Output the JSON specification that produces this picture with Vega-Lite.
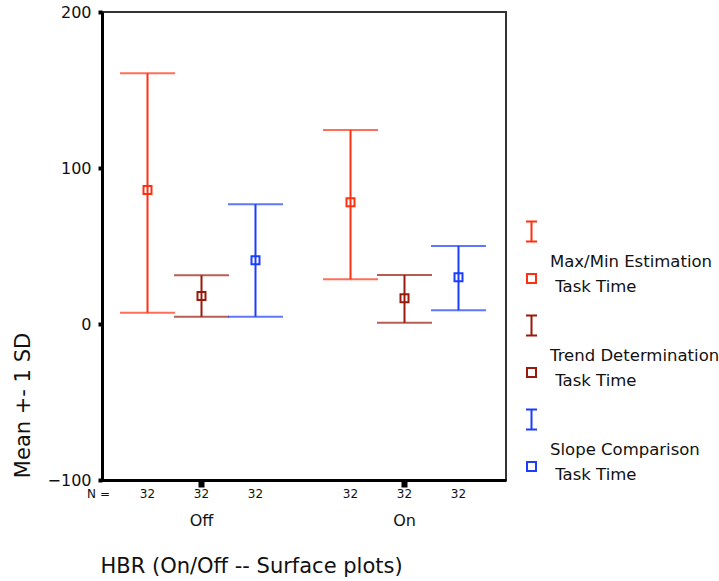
{
  "$schema": "https://vega.github.io/schema/vega-lite/v6.json",
  "autosize": {"type": "none"},
  "padding": {"left": 102, "top": 12, "right": 213, "bottom": 101},
  "width": 404,
  "height": 468,
  "config": {
    "font": "DejaVu Sans",
    "view": {"stroke": "#333333", "strokeWidth": 2},
    "axis": {"grid": false, "labelColor": "#111111", "titleColor": "#111111", "titleFontWeight": "normal", "domainColor": "#000000", "tickColor": "#000000"}
  },
  "data": {
    "values": [
      {"hbr": "Off", "task": "Max/Min Estimation Task Time", "mean": 85.9, "lo": 7.2, "hi": 160.7, "n": 32},
      {"hbr": "Off", "task": "Trend Determination Task Time", "mean": 17.9, "lo": 4.7, "hi": 31.2, "n": 32},
      {"hbr": "Off", "task": "Slope Comparison Task Time", "mean": 40.8, "lo": 4.7, "hi": 76.7, "n": 32},
      {"hbr": "On", "task": "Max/Min Estimation Task Time", "mean": 78.0, "lo": 28.7, "hi": 124.4, "n": 32},
      {"hbr": "On", "task": "Trend Determination Task Time", "mean": 16.5, "lo": 0.8, "hi": 31.4, "n": 32},
      {"hbr": "On", "task": "Slope Comparison Task Time", "mean": 29.9, "lo": 8.8, "hi": 50.0, "n": 32}
    ]
  },
  "encoding": {
    "x": {
      "field": "hbr", "type": "nominal", "sort": ["Off", "On"],
      "scale": {"range": [-2, 404], "paddingInner": 0, "paddingOuter": 0},
      "axis": {
        "labelAngle": 0, "labelFontSize": 16, "labelPadding": 25, "domainWidth": 3,
        "tickSize": 7, "tickWidth": 6,
        "title": "HBR (On/Off -- Surface plots)", "titleFontSize": 21,
        "titleX": -2, "titleY": 86, "titleAlign": "left", "titleBaseline": "middle"
      }
    },
    "xOffset": {
      "field": "task", "type": "nominal",
      "sort": ["Max/Min Estimation Task Time", "Trend Determination Task Time", "Slope Comparison Task Time"],
      "scale": {"paddingInner": 0, "paddingOuter": 0.38}
    },
    "color": {
      "field": "task", "type": "nominal",
      "scale": {
        "domain": ["Max/Min Estimation Task Time", "Trend Determination Task Time", "Slope Comparison Task Time"],
        "range": ["#ff3012", "#991a0a", "#1a3dff"]
      },
      "legend": {
        "orient": "none", "legendX": 418.5, "legendY": 239, "title": null,
        "symbolType": "M-0.55,-4.05H0.55M0,-4.05V-2.05M-0.55,-2.05H0.55M-0.55,1.2H0.55M0.45,1.1V2.2M0.55,2.1H-0.55M-0.45,2.2V1.1",
        "symbolSize": 400, "symbolStrokeWidth": 2,
        "labelFontSize": 16.5, "labelLimit": 0, "labelOffset": 7.5, "labelColor": "#111111",
        "rowPadding": 16,
        "labelExpr": "[replace(datum.label, ' Task Time', ''), '\u2060 Task Time']",
        "encode": {
          "labels": {"update": {"lineHeight": {"value": 24.5}}},
          "symbols": {"update": {"fill": {"value": "transparent"}}}
        }
      }
    }
  },
  "layer": [
    {
      "mark": {"type": "rule", "strokeWidth": 2},
      "encoding": {
        "y": {
          "field": "lo", "type": "quantitative",
          "scale": {"domain": [-100, 200], "nice": false, "zero": false},
          "axis": {
            "values": [-100, 0, 100, 200], "labelFontSize": 16, "labelPadding": 7,
            "domainWidth": 3, "tickSize": 4, "tickWidth": 4,
            "title": "Mean +- 1 SD", "titleFontSize": 21,
            "titleX": -79, "titleY": 393, "titleAlign": "center", "titleBaseline": "middle", "titleAngle": -90
          }
        },
        "y2": {"field": "hi"}
      }
    },
    {
      "mark": {"type": "tick", "size": 55, "thickness": 2},
      "encoding": {"y": {"field": "hi", "type": "quantitative"}}
    },
    {
      "mark": {"type": "tick", "size": 55, "thickness": 2},
      "encoding": {"y": {"field": "lo", "type": "quantitative"}}
    },
    {
      "mark": {"type": "point", "shape": "square", "filled": false, "size": 64, "strokeWidth": 2, "opacity": 1},
      "encoding": {"y": {"field": "mean", "type": "quantitative"}}
    },
    {
      "mark": {"type": "text", "fontSize": 12, "baseline": "middle", "align": "center", "dy": 14},
      "encoding": {
        "y": {"datum": -100},
        "text": {"field": "n", "type": "quantitative"},
        "color": {"value": "#111111"}
      }
    },
    {
      "data": {"values": [{"hbr": "Off", "task": "Max/Min Estimation Task Time", "label": "N ="}]},
      "mark": {"type": "text", "fontSize": 12, "baseline": "middle", "align": "center", "dy": 14, "dx": -49},
      "encoding": {
        "y": {"datum": -100},
        "text": {"field": "label"},
        "color": {"value": "#111111"}
      }
    }
  ]
}
